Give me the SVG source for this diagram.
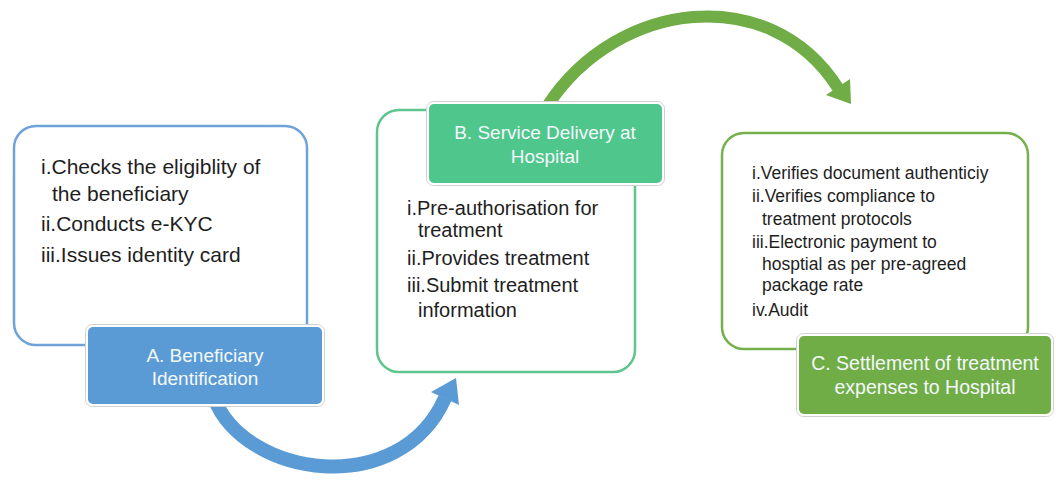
<svg xmlns="http://www.w3.org/2000/svg" width="1056" height="483" viewBox="0 0 1056 483">
<style>
.box{fill:#ffffff;stroke-width:2.5}
.lbl{stroke:#ffffff;stroke-width:2}
.lblo{fill:none;stroke:#cfcfcf;stroke-width:1}
.t{font-family:"Liberation Sans",Arial,sans-serif;fill:#1e1e1e}
.lt{font-family:"Liberation Sans",Arial,sans-serif;fill:#f4f8fb;text-anchor:middle;font-size:19px}
</style>
<rect width="1056" height="483" fill="#ffffff"/>
<g id="connectors">
<path d="M214,398 C245,478 400,500 445,398" fill="none" stroke="#5b9bd5" stroke-width="14"/>
<polygon points="456,378 431,392 459,405" fill="#5b9bd5"/>
<path d="M548,105 C617,0 770,-19 838,88" fill="none" stroke="#70ad47" stroke-width="12"/>
<polygon points="826,95 850,79 851,104" fill="#70ad47"/>
</g>
<g id="nodeA">
<rect class="box" x="14" y="126" width="293" height="219" rx="22" stroke="#6fa3d8"/>
<text class="t" font-size="21"><tspan x="41" y="174">i.Checks the eligiblity of</tspan><tspan x="52" y="201">the beneficiary</tspan><tspan x="41" y="231">ii.Conducts e-KYC</tspan><tspan x="41" y="262">iii.Issues identity card</tspan></text>
<rect class="lblo" x="85.5" y="324.5" width="239" height="82" rx="7"/>
<rect class="lbl" x="87" y="326" width="236" height="79" rx="6" fill="#5b9bd5"/>
<text class="lt"><tspan x="205" y="362">A. Beneficiary</tspan><tspan x="205" y="385">Identification</tspan></text>
</g>
<g id="nodeB">
<rect class="box" x="377" y="110" width="258" height="262" rx="22" stroke="#5ec58f"/>
<text class="t" font-size="20"><tspan x="407" y="215">i.Pre-authorisation for</tspan><tspan x="418" y="237">treatment</tspan><tspan x="407" y="265">ii.Provides treatment</tspan><tspan x="407" y="292">iii.Submit treatment</tspan><tspan x="418" y="317">information</tspan></text>
<rect class="lblo" x="426.5" y="101.5" width="238" height="84" rx="7"/>
<rect class="lbl" x="428" y="103" width="235" height="81" rx="6" fill="#4fc68c"/>
<text class="lt"><tspan x="545" y="139">B. Service Delivery at</tspan><tspan x="545" y="163">Hospital</tspan></text>
</g>
<g id="nodeC">
<rect class="box" x="722" y="133" width="306" height="216" rx="22" stroke="#75b04d"/>
<text class="t" font-size="17.5"><tspan x="752" y="179">i.Verifies document authenticiy</tspan><tspan x="752" y="202">ii.Verifies compliance to</tspan><tspan x="762" y="225">treatment protocols</tspan><tspan x="752" y="248">iii.Electronic payment to</tspan><tspan x="762" y="270">hosptial as per pre-agreed</tspan><tspan x="762" y="291">package rate</tspan><tspan x="752" y="316">iv.Audit</tspan></text>
<rect class="lblo" x="796.5" y="333.5" width="257" height="83" rx="7"/>
<rect class="lbl" x="798" y="335" width="254" height="80" rx="6" fill="#70ad47"/>
<text class="lt" style="font-size:19.5px"><tspan x="925" y="370">C. Settlement of treatment</tspan><tspan x="925" y="394">expenses to Hospital</tspan></text>
</g>
</svg>
